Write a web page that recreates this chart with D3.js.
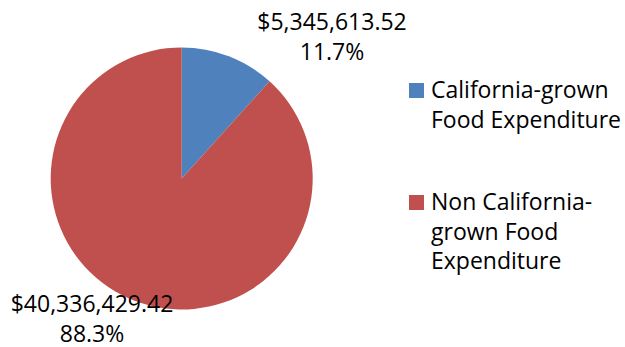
<!DOCTYPE html>
<html>
<head>
<meta charset="utf-8">
<script src="https://cdn.jsdelivr.net/npm/d3@7"></script>
<style>
  html, body { margin: 0; padding: 0; background: #fff; }
  svg { display: block; }
  text { font-family: "Open Sans", "Liberation Sans", sans-serif; fill: #000; }
</style>
</head>
<body>
<svg id="chart" width="625" height="347"></svg>
<script>
// Food expenditure split
const categories = ["California-grown Food Expenditure", "Non California-grown Food Expenditure"];
const values = [5345613.52, 40336429.42];
const colors = ["#4F81BD", "#C0504D"];
// Legend labels, wrapped as shown
const legendLines = [
  ["California-grown", "Food Expenditure"],
  ["Non California-", "grown Food", "Expenditure"]
];

const svg = d3.select("#chart");
const cx = 181.7, cy = 178.5, radius = 131;
const fontSize = 23;

const total = d3.sum(values);
const data = categories.map((c, i) => ({ name: c, value: values[i], color: colors[i] }));

const pie = d3.pie().sort(null).value(d => d.value);
const arc = d3.arc().innerRadius(0).outerRadius(radius);
const arcs = pie(data);

const g = svg.append("g").attr("transform", `translate(${cx},${cy})`);
g.selectAll("path.slice")
  .data(arcs)
  .join("path")
  .attr("class", "slice")
  .attr("d", arc)
  .attr("fill", d => d.data.color);

// Data labels: value and share, placed outside each slice
const money = d3.format("$,.2f");
const pct = d3.format(".1%");
const labelPos = [
  { x: 332, y: 29.5 },
  { x: 92, y: 311.5 }
];
const labels = svg.selectAll("g.dlabel")
  .data(arcs)
  .join("g")
  .attr("class", "dlabel")
  .attr("transform", (d, i) => `translate(${labelPos[i].x},${labelPos[i].y})`);
labels.append("text")
  .attr("text-anchor", "middle")
  .attr("font-size", fontSize)
  .text(d => money(d.data.value));
labels.append("text")
  .attr("text-anchor", "middle")
  .attr("y", 30)
  .attr("font-size", fontSize)
  .text(d => pct(d.data.value / total));

// Legend
const legendX = 409, sw = 15, lineH = 29.5;
const legendTops = [98, 210];
const leg = svg.selectAll("g.legend")
  .data(data)
  .join("g")
  .attr("class", "legend")
  .attr("transform", (d, i) => `translate(${legendX},${legendTops[i]})`);
leg.append("rect")
  .attr("x", 0)
  .attr("y", -15)
  .attr("width", sw)
  .attr("height", sw)
  .attr("fill", d => d.color);
leg.each(function (d, i) {
  const t = d3.select(this).append("text")
    .attr("x", 22)
    .attr("font-size", fontSize);
  legendLines[i].forEach((line, j) => {
    t.append("tspan").attr("x", 22).attr("y", j * lineH).text(line);
  });
});
</script>
</body>
</html>
